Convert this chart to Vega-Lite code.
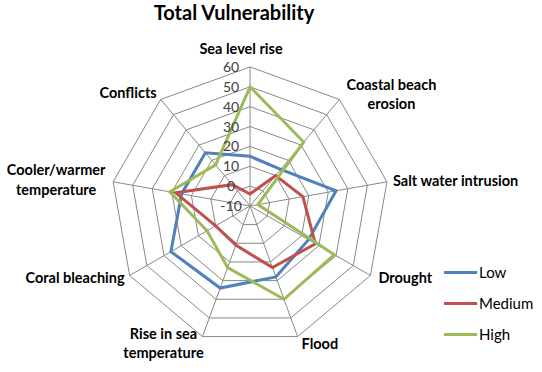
{
  "$schema": "https://vega.github.io/schema/vega-lite/v6.json",
  "width": 542,
  "height": 372,
  "autosize": {"type": "none"},
  "padding": 0,
  "background": "white",
  "title": {"text": "Total Vulnerability", "anchor": "middle", "dx": -37, "offset": -34, "baseline": "middle", "font": "Lato", "fontSize": 20, "fontWeight": "bold", "color": "#000000"},
  "config": {"view": {"stroke": null}, "font": "Lato"},
  "datasets": {
    "cats": [
      {"category": "Sea level rise", "k": 0, "label": ["Sea level rise"]},
      {"category": "Coastal beach erosion", "k": 1, "label": ["Coastal beach", "erosion"]},
      {"category": "Salt water intrusion", "k": 2, "label": ["Salt water intrusion"]},
      {"category": "Drought", "k": 3, "label": ["Drought"]},
      {"category": "Flood", "k": 4, "label": ["Flood"]},
      {"category": "Rise in sea temperature", "k": 5, "label": ["Rise in sea", "temperature"]},
      {"category": "Coral bleaching", "k": 6, "label": ["Coral bleaching"]},
      {"category": "Cooler/warmer temperature", "k": 7, "label": ["Cooler/warmer", "temperature"]},
      {"category": "Conflicts", "k": 8, "label": ["Conflicts"]}
    ],
    "vuln": [
      {"category": "Sea level rise", "series": "Low", "value": 15},
      {"category": "Sea level rise", "series": "Medium", "value": -4},
      {"category": "Sea level rise", "series": "High", "value": 50},
      {"category": "Coastal beach erosion", "series": "Low", "value": 14},
      {"category": "Coastal beach erosion", "series": "Medium", "value": 10},
      {"category": "Coastal beach erosion", "series": "High", "value": 32},
      {"category": "Salt water intrusion", "series": "Low", "value": 34},
      {"category": "Salt water intrusion", "series": "Medium", "value": 17},
      {"category": "Salt water intrusion", "series": "High", "value": -6},
      {"category": "Drought", "series": "Low", "value": 24},
      {"category": "Drought", "series": "Medium", "value": 28},
      {"category": "Drought", "series": "High", "value": 39},
      {"category": "Flood", "series": "Low", "value": 28},
      {"category": "Flood", "series": "Medium", "value": 23},
      {"category": "Flood", "series": "High", "value": 40},
      {"category": "Rise in sea temperature", "series": "Low", "value": 34},
      {"category": "Rise in sea temperature", "series": "Medium", "value": 11},
      {"category": "Rise in sea temperature", "series": "High", "value": 23},
      {"category": "Coral bleaching", "series": "Low", "value": 36},
      {"category": "Coral bleaching", "series": "Medium", "value": 10},
      {"category": "Coral bleaching", "series": "High", "value": 15},
      {"category": "Cooler/warmer temperature", "series": "Low", "value": 25},
      {"category": "Cooler/warmer temperature", "series": "Medium", "value": 28},
      {"category": "Cooler/warmer temperature", "series": "High", "value": 31},
      {"category": "Conflicts", "series": "Low", "value": 25},
      {"category": "Conflicts", "series": "Medium", "value": 4},
      {"category": "Conflicts", "series": "High", "value": 17}
    ],
    "grid": [{"ring": [0, 10, 20, 30, 40, 50, 60], "k": [0, 1, 2, 3, 4, 5, 6, 7, 8]}],
    "ticks": [{"tick": [-10, 0, 10, 20, 30, 40, 50, 60]}]
  },
  "layer": [
    {
      "data": {"name": "grid"},
      "transform": [
        {"flatten": ["ring"]},
        {"flatten": ["k"]},
        {"calculate": "datum.ring + 10", "as": "r"},
        {"calculate": "datum.r * sin(datum.k * 2 * PI / 9)", "as": "px"},
        {"calculate": "datum.r * cos(datum.k * 2 * PI / 9)", "as": "py"}
      ],
      "mark": {"type": "line", "interpolate": "linear-closed", "stroke": "#888888", "strokeWidth": 1},
      "encoding": {
        "x": {"field": "px", "type": "quantitative", "scale": {"domain": [-125.9, 147.0], "zero": false, "nice": false}, "axis": null},
        "y": {"field": "py", "type": "quantitative", "scale": {"domain": [-83.6, 103.7], "zero": false, "nice": false}, "axis": null},
        "detail": {"field": "ring", "type": "nominal"},
        "order": {"field": "k", "type": "quantitative"}
      }
    },
    {
      "data": {"name": "cats"},
      "transform": [
        {"calculate": "70 * sin(datum.k * 2 * PI / 9)", "as": "px"},
        {"calculate": "70 * cos(datum.k * 2 * PI / 9)", "as": "py"}
      ],
      "mark": {"type": "rule", "stroke": "#888888", "strokeWidth": 1},
      "encoding": {
        "x": {"field": "px", "type": "quantitative"},
        "y": {"field": "py", "type": "quantitative"},
        "x2": {"datum": 0},
        "y2": {"datum": 0}
      }
    },
    {
      "data": {"name": "vuln"},
      "transform": [
        {"lookup": "category", "from": {"data": {"name": "cats"}, "key": "category", "fields": ["k"]}},
        {"calculate": "datum.value + 10", "as": "r"},
        {"calculate": "datum.r * sin(datum.k * 2 * PI / 9)", "as": "px"},
        {"calculate": "datum.r * cos(datum.k * 2 * PI / 9)", "as": "py"}
      ],
      "mark": {"type": "line", "interpolate": "linear-closed", "strokeWidth": 3},
      "encoding": {
        "x": {"field": "px", "type": "quantitative"},
        "y": {"field": "py", "type": "quantitative"},
        "order": {"field": "k", "type": "quantitative"},
        "color": {
          "field": "series", "type": "nominal",
          "scale": {"domain": ["Low", "Medium", "High"], "range": ["#4F81BD", "#C0504D", "#9BBB59"]},
          "legend": {
            "title": null, "orient": "none", "legendX": 442, "legendY": 254,
            "symbolType": "stroke", "symbolSize": 1100, "symbolStrokeWidth": 3,
            "labelFont": "Lato", "labelFontSize": 15, "labelColor": "#000000", "labelOffset": 0,
            "rowPadding": 4
          }
        }
      }
    },
    {
      "data": {"name": "ticks"},
      "transform": [
        {"flatten": ["tick"]},
        {"calculate": "datum.tick + 10", "as": "py"},
        {"calculate": "'' + datum.tick", "as": "tickLabel"}
      ],
      "mark": {"type": "text", "align": "center", "baseline": "middle", "dx": -19, "dy": 1, "fontSize": 14, "font": "Lato", "color": "#404040"},
      "encoding": {
        "x": {"datum": 0},
        "y": {"field": "py", "type": "quantitative"},
        "text": {"field": "tickLabel", "type": "nominal"}
      }
    },
    {
      "data": {"name": "cats"},
      "transform": [
        {"calculate": "70 * sin(datum.k * 2 * PI / 9)", "as": "px"},
        {"calculate": "70 * cos(datum.k * 2 * PI / 9)", "as": "py"}
      ],
      "encoding": {
        "x": {"field": "px", "type": "quantitative"},
        "y": {"field": "py", "type": "quantitative"},
        "text": {"field": "label"}
      },
      "layer": [
        {"transform": [{"filter": "datum.k == 0"}], "mark": {"type": "text", "align": "center", "baseline": "middle", "dx": -9, "dy": -17, "fontSize": 14.5, "fontWeight": "bold", "font": "Lato", "color": "#000000", "lineHeight": 19}},
        {"transform": [{"filter": "datum.k == 1"}], "mark": {"type": "text", "align": "center", "baseline": "middle", "dx": 52, "dy": -13, "fontSize": 14.5, "fontWeight": "bold", "font": "Lato", "color": "#000000", "lineHeight": 19}},
        {"transform": [{"filter": "datum.k == 2"}], "mark": {"type": "text", "align": "left", "baseline": "middle", "dx": 6, "dy": 0, "fontSize": 14.5, "fontWeight": "bold", "font": "Lato", "color": "#000000", "lineHeight": 19}},
        {"transform": [{"filter": "datum.k == 3"}], "mark": {"type": "text", "align": "left", "baseline": "middle", "dx": 8, "dy": 4, "fontSize": 14.5, "fontWeight": "bold", "font": "Lato", "color": "#000000", "lineHeight": 19}},
        {"transform": [{"filter": "datum.k == 4"}], "mark": {"type": "text", "align": "left", "baseline": "middle", "dx": 4, "dy": 8, "fontSize": 14.5, "fontWeight": "bold", "font": "Lato", "color": "#000000", "lineHeight": 19}},
        {"transform": [{"filter": "datum.k == 5"}], "mark": {"type": "text", "align": "center", "baseline": "middle", "dx": -39, "dy": -2, "fontSize": 14.5, "fontWeight": "bold", "font": "Lato", "color": "#000000", "lineHeight": 19}},
        {"transform": [{"filter": "datum.k == 6"}], "mark": {"type": "text", "align": "right", "baseline": "middle", "dx": -5, "dy": 4, "fontSize": 14.5, "fontWeight": "bold", "font": "Lato", "color": "#000000", "lineHeight": 19}},
        {"transform": [{"filter": "datum.k == 7"}], "mark": {"type": "text", "align": "center", "baseline": "middle", "dx": -57, "dy": -11, "fontSize": 14.5, "fontWeight": "bold", "font": "Lato", "color": "#000000", "lineHeight": 20}},
        {"transform": [{"filter": "datum.k == 8"}], "mark": {"type": "text", "align": "right", "baseline": "middle", "dx": -4, "dy": -5, "fontSize": 14.5, "fontWeight": "bold", "font": "Lato", "color": "#000000", "lineHeight": 19}}
      ]
    }
  ]
}
